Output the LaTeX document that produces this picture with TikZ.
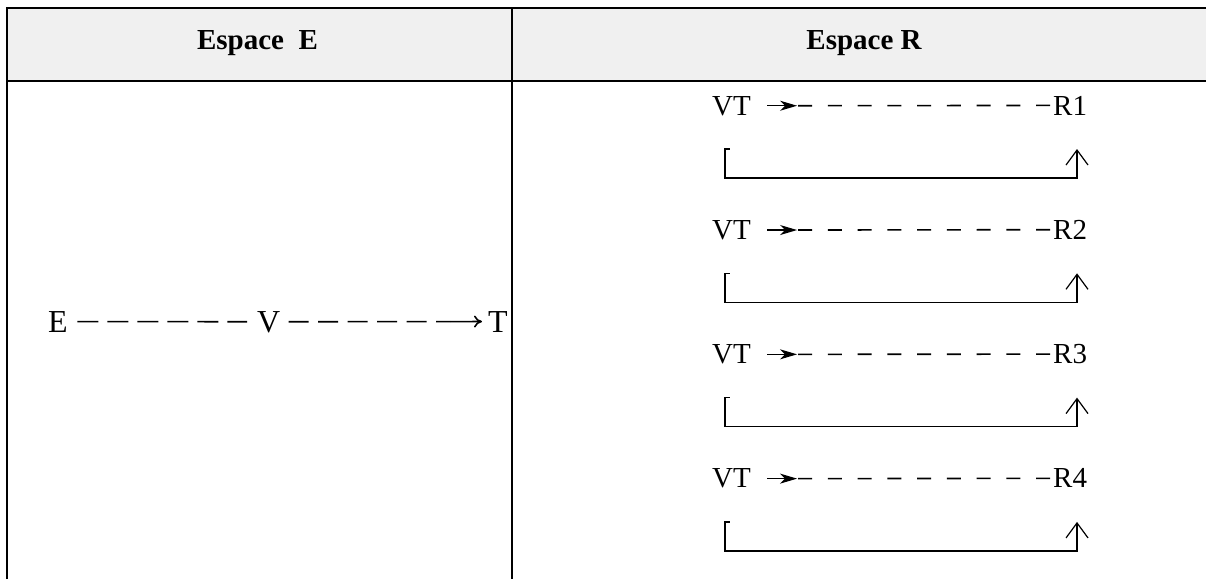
\documentclass[tikz,border=0pt]{standalone}
\usepackage{fontspec}
\setmainfont{Liberation Serif}
\usetikzlibrary{arrows.meta}
\definecolor{headgray}{HTML}{F0F0F0}
\begin{document}
\begin{tikzpicture}[x=1pt,y=-1pt,
  rule/.style={line width=2.6pt, line join=miter},
  headtxt/.style={font=\fontsize{29}{34}\selectfont\bfseries, inner sep=0pt, anchor=base},
  lbl/.style={font=\fontsize{32}{38}\selectfont, inner sep=0pt, anchor=base west},
  rlbl/.style={font=\fontsize{29}{34}\selectfont, inner sep=0pt, anchor=base west},
  edash/.style={line width=1.6pt},
  rdash/.style={line width=1.6pt, dash pattern=on 14pt off 15.75pt},
  ptr/.style={line width=1.2pt, -{Stealth[length=17pt,width=10pt,inset=5pt]}},
  loopline/.style={line width=1.6pt, line join=miter, -{Straight Barb[length=15pt,width=22pt,line width=1.2pt]}}
]
\useasboundingbox (0,0) rectangle (1206,579);
% table
\fill[headgray] (7,8) rectangle (1206,81);
\draw[rule] (7,579) -- (7,8) -- (1206,8);
\draw[rule] (7,81) -- (1206,81);
\draw[rule] (512,8) -- (512,579);
\node[headtxt] (hE) at (257.5,49) {Espace\ \ E};
\node[headtxt] (hR) at (864,49) {Espace R};
% left column
\node[lbl] (E) at (48,332) {E};
\node[lbl] (V) at (257,332) {V};
\node[lbl] (T) at (488,332) {T};
\draw[edash, dash pattern=on 21pt off 9pt, shorten <=9.5pt, shorten >=10pt] (E) -- (V);
\path (V.east) -- (T.west) coordinate[pos=0.817] (c);
\draw[edash, dash pattern=on 20pt off 9.5pt, shorten <=8pt] (V.east) -- (c);
\draw[edash, -{To[length=8pt,width=12pt]}, shorten >=6pt] (c) -- (T.west);
% right column
\foreach \i/\r in {0/1,1/2,2/3,3/4}{
  \pgfmathsetmacro{\yb}{115+124.3*\i}
  \pgfmathsetmacro{\yt}{149+124.3*\i}
  \pgfmathsetmacro{\ybot}{178+124.3*\i}
  \node[rlbl] (VT\r) at (712,\yb) {VT};
  \node[rlbl] (R\r) at (1053,\yb) {R\r};
  \coordinate (h\r) at ([xshift=16pt]VT\r.east);
  \coordinate (k\r) at ([xshift=46pt]VT\r.east);
  \draw[ptr] (h\r) -- (k\r);
  \draw[rdash] ([xshift=1pt]k\r) -- ([xshift=-3pt]R\r.west);
  \coordinate (tk\r) at (729.5,\yt);
  \coordinate (lt\r) at (725,\yt);
  \coordinate (lb\r) at (725,\ybot);
  \coordinate (rb\r) at (1077,\ybot);
  \coordinate (rt\r) at (1077,\yt);
  \draw[loopline] (tk\r) -- (lt\r) -- (lb\r) -- (rb\r) -- (rt\r);
}
\end{tikzpicture}
\end{document}
